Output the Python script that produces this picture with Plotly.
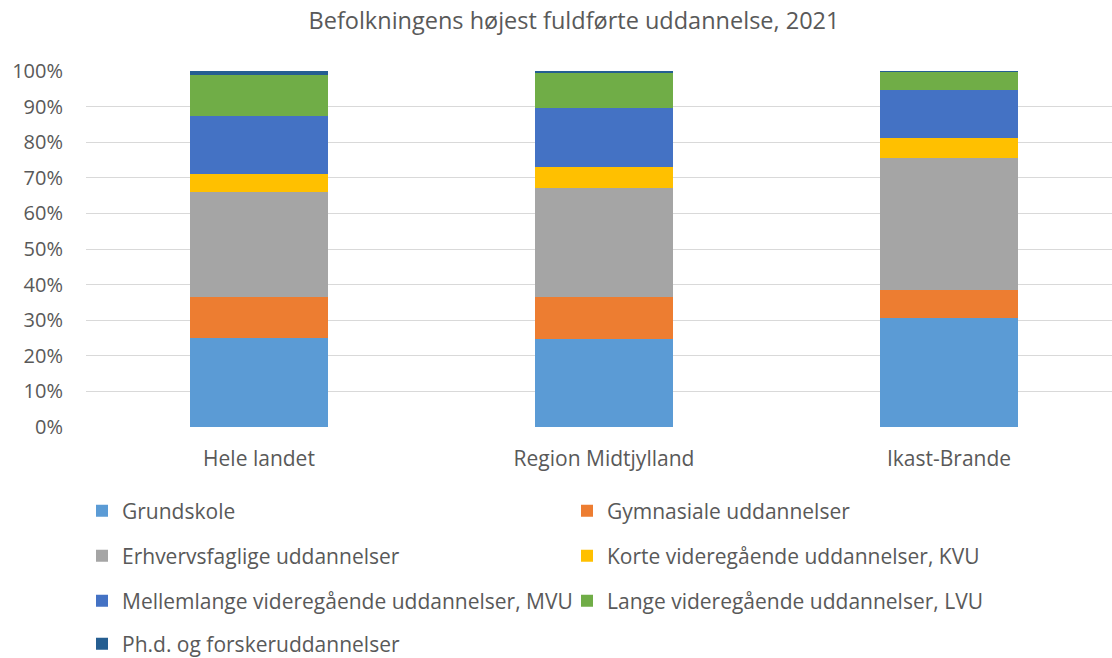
import plotly.graph_objects as go

categories = ["Hele landet", "Region Midtjylland", "Ikast-Brande"]
series_names = [
    "Grundskole",
    "Gymnasiale uddannelser",
    "Erhvervsfaglige uddannelser",
    "Korte videregående uddannelser, KVU",
    "Mellemlange videregående uddannelser, MVU",
    "Lange videregående uddannelser, LVU",
    "Ph.d. og forskeruddannelser",
]
grundskole = [25.0, 24.8, 30.7]
gymnasiale = [11.4, 11.8, 7.7]
erhvervsfaglige = [29.5, 30.6, 37.3]
kvu = [5.2, 5.7, 5.6]
mvu = [16.2, 16.7, 13.5]
lvu = [11.6, 9.7, 5.0]
phd = [1.1, 0.7, 0.2]
series_values = [grundskole, gymnasiale, erhvervsfaglige, kvu, mvu, lvu, phd]
colors = ["#5B9BD5", "#ED7D31", "#A5A5A5", "#FFC000", "#4472C4", "#70AD47", "#255E91"]
legend_ids = ["legend", "legend", "legend2", "legend2", "legend3", "legend3", "legend4"]
y_ticks = [0, 0.1, 0.2, 0.3, 0.4, 0.5, 0.6, 0.7, 0.8, 0.9, 1.0]

FONT = "Open Sans"
TXT = "#595959"

fig = go.Figure()
for name, vals, col, lg in zip(series_names, series_values, colors, legend_ids):
    total = [sum(v[i] for v in series_values) for i in range(len(categories))]
    fig.add_trace(go.Bar(
        x=list(range(len(categories))),
        y=[v / t for v, t in zip(vals, total)],
        name=name,
        marker=dict(color=col, line=dict(width=0)),
        width=0.4,
        legend=lg,
    ))

W, H = 1112, 658
left, right_px, top, bottom_px = 86, 1112, 71, 427
pw = right_px - left
ph = bottom_px - top
step = 345.0
x0 = -0.5 + (left - (259 - step / 2)) / step
x1 = x0 + pw / step

def ypaper(py):
    return (bottom_px - py) / ph

legend_common = dict(
    orientation="h",
    xanchor="left",
    yanchor="middle",
    x=(82 - left) / pw,
    font=dict(family=FONT, size=21, color=TXT),
    entrywidth=440,
    entrywidthmode="pixels",
    bgcolor="rgba(0,0,0,0)",
    traceorder="normal",
)

fig.update_layout(
    width=W,
    height=H,
    barmode="stack",
    bargap=0.6,
    plot_bgcolor="white",
    paper_bgcolor="white",
    margin=dict(l=left, r=W - right_px, t=top, b=H - bottom_px, pad=0, autoexpand=False),
    title=dict(
        text="Befolkningens højest fuldførte uddannelse, 2021",
        font=dict(family=FONT, size=23.5, color=TXT),
        x=574 / W,
        xanchor="center",
        xref="container",
        y=1 - 21 / H,
        yanchor="middle",
    ),
    xaxis=dict(
        range=[x0, x1],
        tickmode="array",
        tickvals=list(range(len(categories))),
        ticktext=categories,
        tickfont=dict(family=FONT, size=21, color=TXT),
        showgrid=False,
        zeroline=False,
        showline=False,
        ticks="",
        ticklabelstandoff=17,
    ),
    yaxis=dict(
        range=[0, 1],
        tickvals=y_ticks,
        tickformat=".0%",
        tickfont=dict(family=FONT, size=20, color=TXT),
        showgrid=True,
        gridcolor="#D9D9D9",
        gridwidth=1.3,
        zeroline=False,
        showline=False,
        ticks="",
        ticklabelstandoff=22,
    ),
    legend=dict(legend_common, y=ypaper(511)),
    legend2=dict(legend_common, y=ypaper(556)),
    legend3=dict(legend_common, y=ypaper(601)),
    legend4=dict(legend_common, y=ypaper(644)),
)

fig.write_html(
    "out.html",
    config={"displayModeBar": False},
    post_script="document.body.style.margin='0';",
)
